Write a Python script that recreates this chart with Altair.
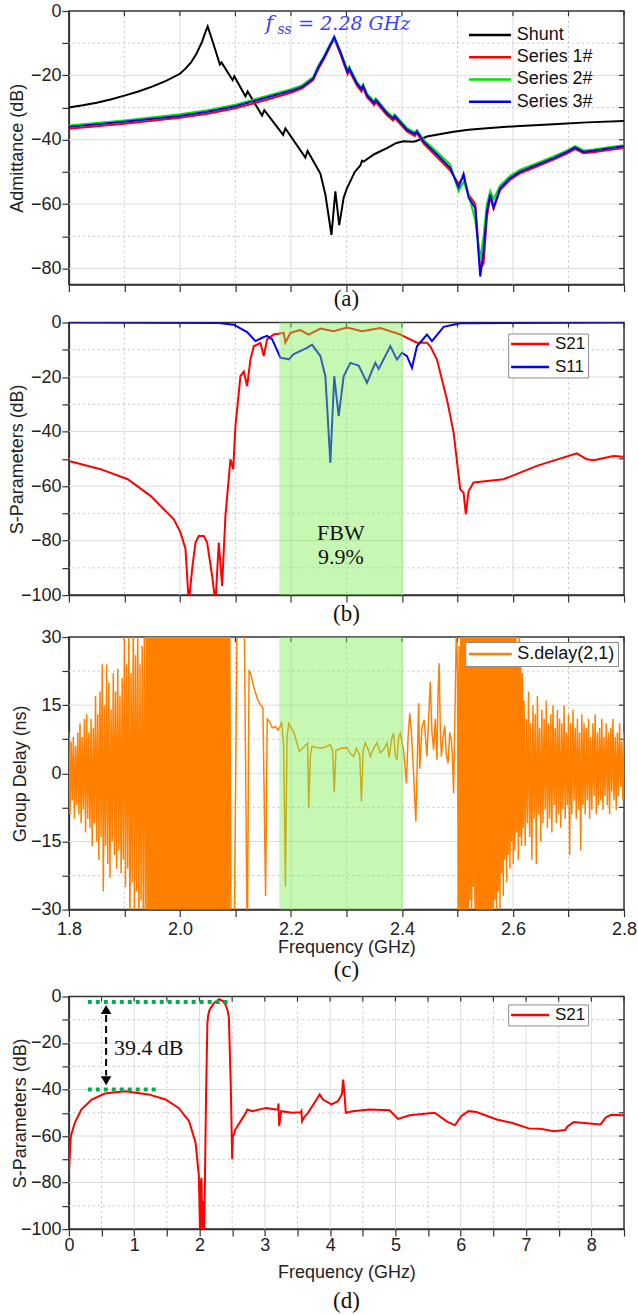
import altair as alt
import pandas as pd

FONT = "Liberation Sans"
SERIF = "Liberation Serif"
AXC = "#333333"
GRID_MAJ = "#dcdcdc"
GRID_MIN = "#c4c4c4"
W = 556

# ---------------- Panel (a): admittance ----------------
shunt_f = [1.80, 1.825, 1.85, 1.875, 1.90, 1.925, 1.95, 1.975, 2.00, 2.01, 2.02, 2.03, 2.04, 2.045, 2.05,
           2.06, 2.072, 2.075, 2.095, 2.098,
           2.118, 2.122, 2.148, 2.152, 2.186, 2.190, 2.226, 2.230, 2.253, 2.262, 2.273, 2.280, 2.287,
           2.295, 2.301, 2.315, 2.325, 2.328, 2.331, 2.35, 2.373, 2.39, 2.403, 2.42, 2.426, 2.445,
           2.47, 2.493, 2.52, 2.553, 2.613, 2.673, 2.733, 2.80]
shunt_db = [-30.0, -29.3, -28.5, -27.5, -26.3, -25.0, -23.5, -21.7, -19.5, -17.9, -16.0, -13.2, -9.5, -7.0, -4.8,
            -10.0, -16.6, -16.0, -21.5, -20.3,
            -26.5, -25.0, -32.5, -30.8, -38.5, -36.5, -45.5, -43.5, -50.5, -57.0, -69.6, -56.0, -66.5,
            -58.0, -55.0, -50.0, -48.0, -46.5, -46.8, -44.5, -42.6, -41.0, -40.5, -40.6, -40.4, -39.0,
            -38.2, -37.5, -36.9, -36.4, -35.7, -35.2, -34.6, -34.2]

ser_f = [1.80, 1.90, 2.00, 2.05, 2.10, 2.15, 2.20, 2.22, 2.24, 2.25, 2.26, 2.27, 2.278, 2.289, 2.302,
         2.305, 2.319, 2.327, 2.330, 2.337, 2.350, 2.353, 2.373, 2.384, 2.387, 2.409, 2.423, 2.427,
         2.439, 2.463, 2.487, 2.502, 2.511, 2.520, 2.532, 2.541, 2.547, 2.553, 2.559, 2.565, 2.577,
         2.595, 2.613, 2.643, 2.673, 2.697, 2.712, 2.727, 2.745, 2.769, 2.80]
ser1_db = [-36.6, -35.0, -33.2, -31.9, -30.2, -27.9, -25.4, -24.0, -21.5, -17.8,
           -14.8, -11.2, -8.6, -13.3, -19.6, -18.5, -23.2, -25.0, -23.8, -26.8,
           -29.2, -28.3, -32.4, -34.0, -33.3, -37.4, -38.8, -38.0, -41.2, -45.4,
           -49.6, -53.6, -51.5, -57.0, -60.0, -80.0, -78.5, -64.0, -57.8, -61.5,
           -55.6, -52.4, -50.4, -48.3, -46.2, -44.3, -42.9, -44.2, -43.9, -43.3, -42.6]
ser2_db = [-35.6, -34.0, -32.1, -30.8, -29.1, -26.7, -24.3, -23.1, -20.5, -16.8,
           -13.9, -10.5, -8.6, -12.4, -18.5, -17.3, -22.1, -23.8, -22.8, -25.7,
           -28.1, -27.2, -31.3, -32.9, -32.1, -36.4, -37.7, -37.0, -40.0, -43.8,
           -47.8, -56.0, -53.0, -57.0, -65.0, -77.0, -70.0, -60.0, -56.0, -58.5,
           -54.2, -51.2, -49.3, -47.3, -45.2, -43.4, -42.0, -43.3, -43.0, -42.4, -41.7]
ser3_db = [-36.0, -34.4, -32.6, -31.3, -29.6, -27.2, -24.8, -23.6, -21.0, -17.2,
           -14.3, -10.8, -8.0, -12.8, -19.0, -17.8, -22.6, -24.3, -23.2, -26.2,
           -28.6, -27.6, -31.8, -33.4, -32.6, -36.9, -38.2, -37.4, -40.6, -44.6,
           -48.8, -54.8, -50.6, -58.0, -61.2, -82.5, -74.5, -62.3, -57.0, -61.0,
           -55.0, -51.9, -49.9, -47.8, -45.7, -43.8, -42.4, -43.8, -43.4, -42.8, -42.0]
a_names = ["Shunt", "Series 1#", "Series 2#", "Series 3#"]
a_colors = ["#000000", "#ff0000", "#00e400", "#0000ff"]

# ---------------- Panel (b): S-parameters (zoom) ----------------
s21_f = [1.80, 1.857, 1.906, 1.947, 1.971, 1.989, 2.001, 2.010, 2.016, 2.022, 2.028, 2.034, 2.043,
         2.049, 2.058, 2.064, 2.070, 2.076, 2.082, 2.091, 2.096, 2.100, 2.109, 2.115, 2.121, 2.127,
         2.133, 2.145, 2.151, 2.157, 2.169, 2.187, 2.190, 2.199, 2.217, 2.232, 2.253, 2.277, 2.301,
         2.328, 2.361, 2.397, 2.409, 2.427, 2.445, 2.451, 2.463, 2.481, 2.493, 2.505, 2.511, 2.515,
         2.520, 2.529, 2.583, 2.643, 2.715, 2.733, 2.745, 2.781, 2.80]
s21_db = [-50.8, -53.8, -57.5, -63.6, -68.5, -72.2, -77.0, -83.0, -103.0, -90.5, -80.7, -78.3, -78.3,
          -80.7, -92.9, -103.0, -80.7, -96.6, -70.9, -50.2, -53.8, -38.0, -19.7, -18.0, -23.3, -13.6,
          -8.7, -7.5, -12.3, -6.2, -4.4, -3.8, -7.4, -3.8, -2.8, -4.4, -2.2, -3.2, -1.8,
          -3.2, -2.0, -4.4, -5.6, -7.4, -7.4, -8.7, -13.6, -28.2, -40.4, -61.2, -62.4, -70.3,
          -61.8, -58.7, -57.5, -52.6, -48.0, -50.2, -50.5, -49.0, -49.2]
s11_f = [1.80, 2.07, 2.097, 2.121, 2.136, 2.148, 2.157, 2.166, 2.181, 2.196, 2.205, 2.229, 2.238,
         2.253, 2.262, 2.271, 2.278, 2.286, 2.295, 2.307, 2.322, 2.337, 2.352, 2.358, 2.379, 2.391,
         2.400, 2.409, 2.418, 2.427, 2.445, 2.454, 2.475, 2.505, 2.80]
s11_db = [0.0, -0.2, -0.8, -3.5, -6.8, -5.6, -4.9, -6.1, -12.9, -13.5, -11.6, -9.3, -8.1,
          -12.3, -19.7, -51.4, -19.7, -34.3, -19.7, -14.8, -15.8, -22.1, -14.8, -17.0, -8.7, -13.6,
          -11.1, -12.3, -16.6, -8.7, -4.4, -6.8, -1.6, -0.3, 0.0]
band = [2.179, 2.402]

# ---------------- Panel (c): group delay ----------------
# noisy regions: per-bin peak high / peak low
gd1_start, gd1_step = 1.800, 0.004
gd1_hi = [9, 7, 8, 6, 9, 11, 8, 12, 13, 9, 12, 10, 17, 13, 18, 24, 15, 24, 20, 14,
          22, 18, 23, 17, 21, 30, 24, 32, 22, 35, 26, 33, 24, 28, 35]
gd1_lo = [-9, -6, -10, -7, -9, -11, -8, -13, -10, -12, -16, -11, -15, -19, -14, -26, -16, -20, -23, -15,
          -18, -21, -17, -22, -19, -25, -21, -35, -24, -33, -26, -35, -28, -34, -36]
gd2_start, gd2_step = 1.940, 0.003
gd2_hi = [38, 42, 35, 45, 40, 37, 44, 39, 41, 36, 43, 38, 46, 40, 35, 42, 39, 44, 37, 41,
          45, 38, 40, 36, 43, 39, 42, 37, 44, 40, 35, 41, 38, 46, 39, 43, 36, 42, 40, 37,
          45, 38, 41, 39, 44, 36, 42, 40, 38, 35]
gd2_lo = [-40, -36, -44, -38, -42, -35, -41, -39, -45, -37, -43, -40, -36, -42, -38, -44, -39, -41, -35, -43,
          -37, -40, -46, -38, -42, -36, -41, -39, -44, -37, -40, -43, -35, -42, -38, -45, -39, -41, -36, -44,
          -37, -40, -42, -38, -43, -36, -41, -39, -44, -37]
gd_mid_f = [2.0895, 2.092, 2.0975, 2.1035, 2.1095, 2.1155, 2.1214, 2.1245, 2.1273, 2.133, 2.1393, 2.1453,
            2.1495, 2.1543, 2.1573, 2.161, 2.1663, 2.172, 2.177, 2.1813,
            2.183, 2.187, 2.190, 2.193, 2.196, 2.206, 2.215, 2.225, 2.230, 2.232, 2.235, 2.238, 2.253,
            2.262, 2.271, 2.275, 2.278, 2.281, 2.290, 2.301, 2.306, 2.313, 2.318, 2.324, 2.327, 2.330,
            2.334, 2.340, 2.343, 2.349, 2.355, 2.361, 2.367, 2.373, 2.377, 2.381, 2.385, 2.388, 2.391,
            2.394, 2.397, 2.400,
            2.403, 2.408, 2.411, 2.414, 2.417, 2.420, 2.425, 2.428, 2.430, 2.432, 2.436, 2.440, 2.445,
            2.448, 2.451, 2.454, 2.457, 2.460, 2.463, 2.465, 2.467, 2.469, 2.471, 2.474, 2.477, 2.480,
            2.483, 2.486, 2.489, 2.491, 2.493, 2.496, 2.498]
gd_mid_v = [38, -36, -40, 40, 36, 40, -40, 22.7, 22.0, 19.0, 16.5, 15.0,
            14.5, -27.0, 12.0, 11.5, 10.0, 10.3, 9.5, 10.5,
            11.4, 6.0, -24.9, 8.0, 11.0, 8.8, 4.8, 6.0, 6.6, -7.7, 4.0, 5.9, 5.5,
            5.8, 6.3, 5.0, -4.2, 5.0, 5.5, 5.6, 4.5, 3.7, 5.5, 4.0, -6.2, 5.0,
            6.7, 5.0, 3.7, 5.5, 6.7, 4.5, 5.3, 6.7, 3.5, 7.5, 8.8, 4.0, 3.0,
            8.0, 8.8, 6.7,
            5.0, -2.2, 8.0, 13.2, 9.0, 2.2, -10.6, 5.0, 15.4, 1.0, 10.0, 11.8, 3.7,
            12.0, 20.2, 9.0, 5.2, 12.0, 3.0, 18.0, 24.2, 10.0, 3.7, 8.0, 10.5, 4.0,
            2.2, 9.0, 7.4, 3.0, -4.4, 16.9, 32.0]
gd3_start, gd3_step = 2.500, 0.003
gd3_hi = [22, 28, 35, 40, 33, 45, 38, 42, 36, 44, 40, 37, 43, 39, 46, 35, 41, 38, 44, 36,
          42, 39, 45, 37, 40, 34, 43, 38, 41, 36, 44, 33, 39, 35, 31, 37, 28, 34, 25, 22]
gd3_lo = [-38, -42, -35, -44, -39, -36, -41, -28, -33, -25, -30, -36, -32, -40, -35, -43, -38, -42, -34, -39,
          -31, -36, -28, -33, -26, -30, -22, -27, -19, -24, -18, -21, -15, -20, -17, -13, -19, -14, -16, -12]
gd4_start, gd4_step = 2.620, 0.004
gd4_hi = [16, 12, 18, 11, 15, 13, 17, 10, 14, 12, 16, 11, 13, 15, 10, 14, 12, 11, 15, 9,
          13, 11, 14, 10, 12, 9, 13, 11, 10, 12, 8, 11, 13, 9, 10, 12, 8, 11, 9, 10,
          12, 8, 9, 11, 7, 9]
gd4_lo = [-16, -11, -14, -19, -10, -20, -9, -15, -11, -8, -12, -10, -13, -7, -11, -9, -12, -8, -10, -7,
          -18, -9, -6, -10, -8, -17, -7, -9, -6, -10, -8, -5, -9, -7, -6, -8, -5, -7, -9, -4,
          -6, -8, -5, -3, -6, -2]

# ---------------- Panel (d): wideband S21 ----------------
d_f = [0.0, 0.03, 0.09, 0.19, 0.35, 0.55, 0.86, 1.22, 1.48, 1.68, 1.84, 1.94, 1.99, 2.01, 2.02,
       2.03, 2.04, 2.05, 2.06, 2.07, 2.08, 2.10, 2.12, 2.13, 2.15, 2.17, 2.22, 2.30, 2.36, 2.40,
       2.43, 2.45, 2.48, 2.50, 2.51, 2.53, 2.55, 2.62, 2.71, 2.73, 2.81, 3.02, 3.17, 3.20, 3.21,
       3.22, 3.25, 3.42, 3.55, 3.56, 3.57, 3.60, 3.66, 3.76, 3.84, 3.89, 4.02, 4.12, 4.18, 4.20,
       4.22, 4.24, 4.35, 4.60, 4.91, 5.04, 5.22, 5.60, 5.78, 5.91, 6.01, 6.12, 6.24, 6.55, 6.78,
       7.04, 7.22, 7.42, 7.60, 7.63, 7.73, 8.14, 8.22, 8.30, 8.50]
d_db = [-75.7, -60.0, -54.3, -48.6, -44.3, -41.7, -40.7, -42.1, -44.3, -47.9, -53.6, -62.9, -77.1, -104.0, -80.0,
        -78.0, -95.0, -104.0, -88.0, -104.0, -85.0, -43.0, -12.0, -8.6, -6.0, -5.0, -2.9, -1.2, -2.0, -3.6,
        -6.0, -9.3, -40.0, -70.0, -60.0, -59.0, -57.1, -54.0, -50.0, -48.6, -49.3, -47.9, -48.6, -48.5, -46.0,
        -55.7, -49.3, -50.0, -49.8, -49.3, -53.6, -52.0, -50.0, -45.7, -42.1, -44.3, -46.4, -45.0, -42.0, -35.7,
        -42.0, -50.0, -49.3, -48.6, -48.9, -52.6, -51.1, -50.0, -53.6, -55.4, -51.4, -49.3, -49.7, -52.9, -54.3,
        -56.7, -56.9, -57.9, -57.4, -56.0, -54.0, -55.0, -52.0, -50.9, -51.1]
marker_y = [-2.4, -40.0]
marker_x0 = [0.29, 0.29]
marker_x1 = [2.45, 1.38]
arrow_x = 0.57

# ---------------- helpers ----------------
def zigzag(start, step, hi, lo):
    f, v = [], []
    for i, (h, l) in enumerate(zip(hi, lo)):
        x = start + i * step
        f += [x, x + step / 2]
        v += [h, l]
    return f, v


def yaxis(title, values, expr, title_x):
    return alt.Axis(title=title, values=values, labelExpr=expr, grid=False, labelOverlap=False,
                    tickSize=7, tickColor=AXC, tickWidth=1.2, domainColor=AXC, domainWidth=1.5,
                    labelFont=FONT, labelFontSize=18, labelColor="#222", labelPadding=1,
                    titleFont=FONT, titleFontSize=18, titleFontWeight="normal", titleColor="#222",
                    titleX=title_x)


def xaxis(values, expr=None, title=None, labels=True, label_pad=3, title_pad=3):
    kw = dict(values=values, grid=False, labelOverlap=False, labelFlush=False,
              tickSize=7, tickColor=AXC, tickWidth=1.2, domainColor=AXC, domainWidth=1.5,
              labelFont=FONT, labelFontSize=18, labelColor="#222", labelPadding=label_pad,
              titleFont=FONT, titleFontSize=18, titleFontWeight="normal", titleColor="#222",
              titlePadding=title_pad, labels=labels)
    if expr:
        kw["labelExpr"] = expr
    kw["title"] = title
    return alt.Axis(**kw)


def legend(x, y, length, fs, boxed, pad, row_pad):
    s = length / 3.0          # symbol "size" side; the path spans 3 x that
    sw = 2.5
    off = s + sw
    sym_off = length / 2.0 - off / 2.0
    kw = dict(orient="none", legendX=x, legendY=y, title=None, symbolType="M-3,0H3",
              symbolSize=s * s, symbolStrokeWidth=sw, symbolOffset=sym_off,
              labelOffset=length + 5 - off - sym_off, labelFont=FONT, labelFontSize=fs,
              labelColor="#111", rowPadding=row_pad, padding=pad)
    if boxed:
        kw.update(strokeColor="#8c8c8c", fillColor="white")
    return alt.Legend(**kw)


def grids(X, Y, xmaj, xmin, ymaj, ymin, xticks, yticks):
    return [
        alt.Chart(pd.DataFrame({"v": xmaj})).mark_rule(color=GRID_MAJ, strokeWidth=1).encode(x=X("v")),
        alt.Chart(pd.DataFrame({"v": xmin})).mark_rule(color=GRID_MIN, strokeWidth=1, strokeDash=[2, 3]).encode(x=X("v")),
        alt.Chart(pd.DataFrame({"v": ymaj})).mark_rule(color=GRID_MAJ, strokeWidth=1).encode(y=Y("v")),
        alt.Chart(pd.DataFrame({"v": ymin})).mark_rule(color=GRID_MIN, strokeWidth=1, strokeDash=[2, 3]).encode(y=Y("v")),
        # inward ticks on the top and right frame edges
        alt.Chart(pd.DataFrame({"v": xticks})).mark_rule(color=AXC, strokeWidth=1.2).encode(
            x=X("v"), y=alt.value(0), y2=alt.value(5)),
        alt.Chart(pd.DataFrame({"v": yticks})).mark_rule(color=AXC, strokeWidth=1.2).encode(
            y=Y("v"), x=alt.value(W), x2=alt.value(W - 5)),
    ]


def caption(txt, off):
    return alt.TitleParams(txt, orient="bottom", font=SERIF, fontSize=23, fontWeight="normal",
                           color="#111", offset=off)


fx_vals = [round(1.8 + 0.1 * i, 1) for i in range(11)]
fx_maj = [2.0, 2.2, 2.4, 2.6]
fx_min = [1.9, 2.1, 2.3, 2.5, 2.7]
fx_expr = "abs(round(datum.value*10)) % 2 == 0 ? format(datum.value, '.1f') : ''"

# ---------------- panel (a) ----------------
ya_vals = [-80, -70, -60, -50, -40, -30, -20, -10, 0]
ax_a_y = yaxis("Admittance (dB)", ya_vals, "datum.value % 20 == 0 ? datum.label : ''", -42)
ax_a_x = xaxis(fx_vals, labels=False)
Xa = lambda f: alt.X(f, type="quantitative", scale=alt.Scale(domain=[1.8, 2.8], nice=False, zero=False), axis=ax_a_x)
Ya = lambda f: alt.Y(f, type="quantitative", scale=alt.Scale(domain=[-85, 0], nice=False, zero=False), axis=ax_a_y)

rows = []
for f, v in zip(shunt_f, shunt_db):
    rows.append({"f": f, "v": v, "s": "Shunt"})
for name, vals in zip(a_names[1:], [ser1_db, ser2_db, ser3_db]):
    for f, v in zip(ser_f, vals):
        rows.append({"f": f, "v": v, "s": name})
df_a = pd.DataFrame(rows)

lines_a = alt.Chart(df_a).mark_line(strokeWidth=2).encode(
    x=Xa("f"), y=Ya("v"),
    color=alt.Color("s:N", scale=alt.Scale(domain=a_names, range=a_colors), sort=a_names,
                    legend=legend(397, 12, 42, 18, False, 3, 4.3)),
    detail="s:N")

fss = pd.DataFrame({"f": [2.154], "v": [-4.1]})
t1 = alt.Chart(fss).mark_text(text="f", font="DejaVu Serif", fontStyle="italic", fontSize=21,
                              color="#3c3cff", align="left", baseline="middle").encode(x=Xa("f"), y=Ya("v"))
t2 = alt.Chart(fss).mark_text(text="ss", font="DejaVu Serif", fontStyle="italic", fontSize=14,
                              color="#3c3cff", align="left", baseline="middle", dx=12, dy=6).encode(x=Xa("f"), y=Ya("v"))
t3 = alt.Chart(fss).mark_text(text="= 2.28 GHz", font="DejaVu Serif", fontStyle="italic", fontSize=19,
                              color="#3c3cff", align="left", baseline="middle", dx=33).encode(x=Xa("f"), y=Ya("v"))

pa = alt.layer(*grids(Xa, Ya, fx_maj, fx_min, [-80, -60, -40, -20], [-70, -50, -30, -10], fx_vals, ya_vals),
               lines_a, t1, t2, t3).properties(width=W, height=274, title=caption("(a)", -4))

# ---------------- panel (b) ----------------
yb_vals = list(range(-100, 1, 10))
ax_b_y = yaxis("S-Parameters (dB)", yb_vals, "datum.value % 20 == 0 ? datum.label : ''", -42)
ax_b_x = xaxis(fx_vals, labels=False)
Xb = lambda f: alt.X(f, type="quantitative", scale=alt.Scale(domain=[1.8, 2.8], nice=False, zero=False), axis=ax_b_x)
Yb = lambda f: alt.Y(f, type="quantitative", scale=alt.Scale(domain=[-100, 0], nice=False, zero=False), axis=ax_b_y)

df_b = pd.concat([pd.DataFrame({"f": s21_f, "v": s21_db, "s": "S21"}),
                  pd.DataFrame({"f": s11_f, "v": s11_db, "s": "S11"})])
lines_b = alt.Chart(df_b).mark_line(strokeWidth=2, clip=True).encode(
    x=Xb("f"), y=Yb("v"),
    color=alt.Color("s:N", scale=alt.Scale(domain=["S21", "S11"], range=["#ff0000", "#0000ff"]),
                    sort=["S21", "S11"], legend=legend(440, 11, 38, 17, True, 2, 5)),
    detail="s:N")
df_band = pd.DataFrame({"lo": [band[0]], "hi": [band[1]]})
band_b = alt.Chart(df_band).mark_rect(color="#79ee4a", opacity=0.42).encode(x=Xb("lo"), x2="hi")
fbw = pd.DataFrame({"f": [2.29, 2.29], "v": [-77.3, -86.2], "t": ["FBW", "9.9%"]})
fbw_t = alt.Chart(fbw).mark_text(font=SERIF, fontSize=22, color="#111").encode(x=Xb("f"), y=Yb("v"), text="t:N")

pb = alt.layer(*grids(Xb, Yb, fx_maj, fx_min, [-80, -60, -40, -20], [-90, -70, -50, -30, -10], fx_vals, yb_vals),
               lines_b, band_b, fbw_t).properties(width=W, height=273, title=caption("(b)", -1))

# ---------------- panel (c) ----------------
yc_vals = [-30, -22.5, -15, -7.5, 0, 7.5, 15, 22.5, 30]
ax_c_y = yaxis("Group Delay (ns)", yc_vals, "datum.value % 15 == 0 ? datum.label : ''", -39)
ax_c_x = xaxis(fx_vals, expr=fx_expr, title="Frequency (GHz)", label_pad=4, title_pad=0)
Xc = lambda f: alt.X(f, type="quantitative", scale=alt.Scale(domain=[1.8, 2.8], nice=False, zero=False), axis=ax_c_x)
Yc = lambda f: alt.Y(f, type="quantitative", scale=alt.Scale(domain=[-30, 30], nice=False, zero=False), axis=ax_c_y)

gf, gv = [], []
for seg in [zigzag(gd1_start, gd1_step, gd1_hi, gd1_lo), zigzag(gd2_start, gd2_step, gd2_hi, gd2_lo),
            (gd_mid_f, gd_mid_v), zigzag(gd3_start, gd3_step, gd3_hi, gd3_lo),
            zigzag(gd4_start, gd4_step, gd4_hi, gd4_lo)]:
    gf += list(seg[0])
    gv += list(seg[1])
df_c = pd.DataFrame({"f": gf, "v": gv, "s": "S.delay(2,1)"})
lines_c = alt.Chart(df_c).mark_line(strokeWidth=1.5, clip=True).encode(
    x=Xc("f"), y=Yc("v"),
    color=alt.Color("s:N", scale=alt.Scale(domain=["S.delay(2,1)"], range=["#ff8000"]),
                    legend=legend(397, 5, 43, 18, True, 3, 4)))
band_c = alt.Chart(df_band).mark_rect(color="#79ee4a", opacity=0.42).encode(x=Xc("lo"), x2="hi")

pc = alt.layer(*grids(Xc, Yc, fx_maj, fx_min, [-15, 0, 15], [-22.5, -7.5, 7.5, 22.5], fx_vals, yc_vals),
               lines_c, band_c).properties(width=W, height=273, title=caption("(c)", 2))

# ---------------- panel (d) ----------------
yd_vals = list(range(-100, 1, 10))
xd_vals = [i * 0.5 for i in range(18)]
ax_d_y = yaxis("S-Parameters (dB)", yd_vals, "datum.value % 20 == 0 ? datum.label : ''", -39)
ax_d_x = xaxis(xd_vals, expr="datum.value % 1 == 0 ? format(datum.value, 'd') : ''",
               title="Frequency (GHz)", label_pad=0, title_pad=9)
Xd = lambda f: alt.X(f, type="quantitative", scale=alt.Scale(domain=[0, 8.5], nice=False, zero=False), axis=ax_d_x)
Yd = lambda f: alt.Y(f, type="quantitative", scale=alt.Scale(domain=[-100, 0], nice=False, zero=False), axis=ax_d_y)

df_d = pd.DataFrame({"f": d_f, "v": d_db, "s": "S21"})
lines_d = alt.Chart(df_d).mark_line(strokeWidth=2, clip=True).encode(
    x=Xd("f"), y=Yd("v"),
    color=alt.Color("s:N", scale=alt.Scale(domain=["S21"], range=["#ff0000"]),
                    legend=legend(440, 8, 38, 17, True, 2, 4)))
df_mk = pd.DataFrame({"x0": marker_x0, "x1": marker_x1, "y": marker_y})
mk = alt.Chart(df_mk).mark_rule(color="#00b050", strokeWidth=4, strokeDash=[4, 4]).encode(
    x=Xd("x0"), x2="x1", y=Yd("y"))
arr_df = pd.DataFrame({"x": [arrow_x], "y0": [-8.0], "y1": [-34.0]})
shaft = alt.Chart(arr_df).mark_rule(color="black", strokeWidth=2, strokeDash=[7, 4]).encode(
    x=Xd("x"), y=Yd("y0"), y2="y1")
head_up = alt.Chart(pd.DataFrame({"x": [arrow_x], "y": [-5.6]})).mark_point(
    shape="triangle-up", filled=True, color="black", opacity=1, size=110).encode(x=Xd("x"), y=Yd("y"))
head_dn = alt.Chart(pd.DataFrame({"x": [arrow_x], "y": [-36.2]})).mark_point(
    shape="triangle-down", filled=True, color="black", opacity=1, size=110).encode(x=Xd("x"), y=Yd("y"))
lbl = alt.Chart(pd.DataFrame({"x": [0.69], "y": [-22.0], "t": ["39.4 dB"]})).mark_text(
    font=SERIF, fontSize=22, color="#111", align="left").encode(x=Xd("x"), y=Yd("y"), text="t:N")

pd_ = alt.layer(*grids(Xd, Yd, [1, 2, 3, 4, 5, 6, 7, 8], [0.5 + i for i in range(8)],
                       [-80, -60, -40, -20], [-90, -70, -50, -30, -10], xd_vals, yd_vals),
                lines_d, mk, shaft, head_up, head_dn, lbl).properties(width=W, height=233,
                                                                       title=caption("(d)", 9))

top3 = alt.vconcat(pa, pb, pc, spacing=0).resolve_scale(color="independent")
chart = alt.vconcat(top3, pd_, spacing=4).resolve_scale(color="independent").configure_view(
    stroke=AXC, strokeWidth=1.5).properties(padding={"left": 8, "top": 0, "right": 0, "bottom": 0},
                                            background="white")

chart.save("out.html", embed_options={"renderer": "svg", "actions": False})
